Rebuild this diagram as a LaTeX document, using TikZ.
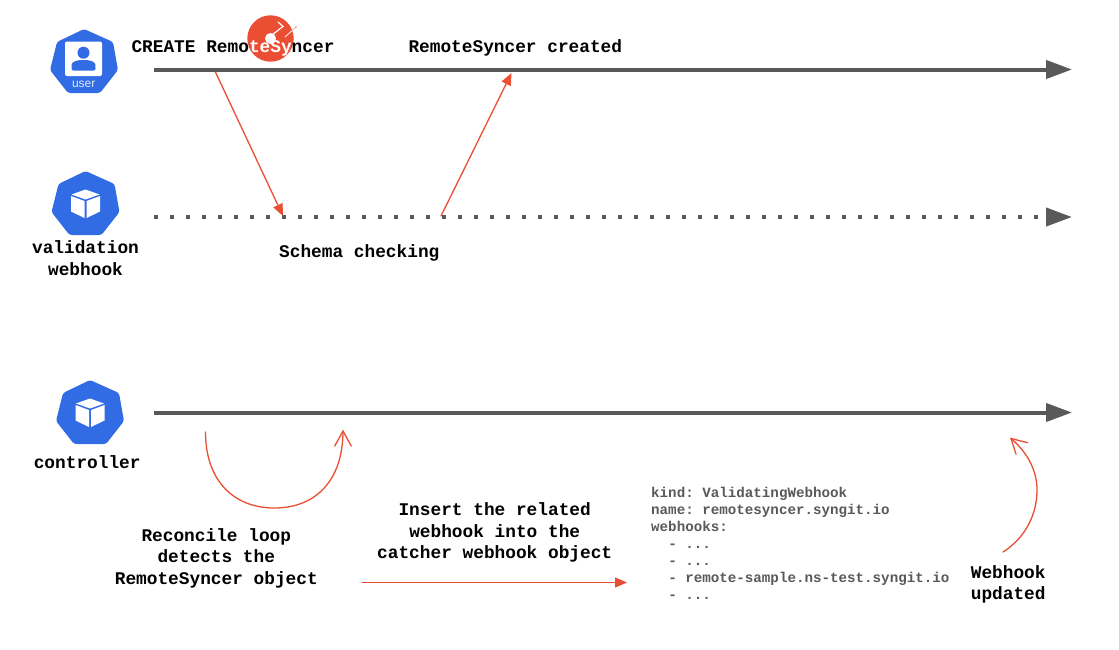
\documentclass[tikz,border=0pt]{standalone}
\usepackage{fontspec}
\setmonofont{Liberation Mono}
\setsansfont{Liberation Sans}
\usetikzlibrary{arrows.meta}
\definecolor{kube}{HTML}{326CE5}
\definecolor{lifeline}{HTML}{595959}
\definecolor{flow}{HTML}{EA4F33}
\definecolor{yamlgray}{HTML}{595959}
\tikzset{
  x=1pt,y=-1pt,
  lifelinearrow/.style={draw=lifeline,line width=4pt,-{Triangle[length=26pt,width=18pt]}},
  dotline/.style={lifelinearrow,dash pattern=on 4pt off 12pt},
  flowline/.style={draw=flow,line width=1.3pt,line cap=round},
  flowarrow/.style={flowline,-{Triangle[length=12pt,width=10pt]}},
  label/.style={font=\ttfamily\bfseries\fontsize{17.8}{21.6}\selectfont,align=center,text=black,inner sep=0pt},
  yaml/.style={font=\ttfamily\bfseries\fontsize{14.2}{17}\selectfont,align=left,text=yamlgray,inner sep=0pt},
  hepta/.pic={
    \fill[kube,rounded corners=2.5pt] (0,0) -- (29,13) -- (34,41) -- (16,64) -- (-16,64) -- (-34,41) -- (-27,13) -- cycle;
  },
  cube/.pic={
    \fill[white] (0,18.5) -- (14,23.5) -- (0,28.5) -- (-14,23.5) -- cycle;
    \fill[white] (-14.5,25) -- (-1,30) -- (-1,47) -- (-14.5,40.5) -- cycle;
    \fill[white] (14.5,25) -- (1,30) -- (1,47) -- (14.5,40.5) -- cycle;
  },
}
\begin{document}
\begin{tikzpicture}
\useasboundingbox (0,0) rectangle (1119,649);
\fill[white] (0,0) rectangle (1119,649);

% logo
\fill[flow] (270.5,38.5) circle (23.2);
\fill[white] (270.5,38.5) circle (5.5);
\draw[white,line width=1.2pt] (270.5,36) -- (283,26.5) -- (278,22);
\draw[white!70!flow,line width=1.2pt] (285,37) -- (296,27);
\fill[white!50!flow] (296,27) circle (1.2);

% icons
\pic at (84,29) {hepta};
\fill[white,rounded corners=2pt] (65,41.5) rectangle (102,76);
\fill[kube] (83.5,52.7) circle (6);
\fill[kube,rounded corners=2pt] (71.5,70.5) -- (71.5,66) .. controls (72,62) and (77,60) .. (83.5,60) .. controls (90,60) and (95,62) .. (95.5,66) -- (95.5,70.5) -- cycle;
\node[font=\sffamily\fontsize{12}{12}\selectfont,text=white!85!kube,inner sep=0pt] (usertext) at (83.7,84) {user};

\pic at (85.5,171) {hepta};
\pic at (85.5,171) {cube};
\pic at (90,380) {hepta};
\pic at (90,380) {cube};

% lifeline ends
\coordinate (u0) at (154,69.5);
\coordinate (u1) at (1072,69.5);
\coordinate (w0) at (154,217);
\coordinate (w1) at (1072,217);
\coordinate (c0) at (154,412.5);
\coordinate (c1) at (1072,412.5);
\coordinate (create) at (214.5,70);
\coordinate (check) at (283,216);
\coordinate (reply) at (441,216);
\coordinate (created) at (511.5,73);
\coordinate (insA) at (362,582.5);
\coordinate (insB) at (627,582.5);
\coordinate (loopA) at (205.5,432);
\coordinate (loopB) at (343,431);
\coordinate (updA) at (1003,552);
\coordinate (updB) at (1011,438.5);

\draw[flowarrow] (create) -- (check);
\draw[flowarrow] (reply) -- (created);
\draw[lifelinearrow] (u0) -- (u1);
\draw[dotline] (w0) -- (w1);
\draw[lifelinearrow] (c0) -- (c1);

% loop
\draw[flowline] (loopA) .. controls (205.5,480) and (233,508) .. (274.5,508) .. controls (316,508) and (343,480) .. (loopB);
\draw[flowline] (334.7,446) -- (loopB) -- (351.2,446);
% insert
\draw[flowarrow] (insA) -- (insB);
% updated
\draw[flowline] (updA) .. controls (1025,538) and (1037,515) .. (1037,490) .. controls (1037,470) and (1027,452) .. (updB);
\draw[flowline] (1027.7,442.7) -- (updB) -- (1016,454);

% labels
\node[label,anchor=base west] (t1) at (131.3,52) {CREATE Remo\textcolor{white}{teSy}ncer};
\node[label,anchor=base west] (t2) at (408.3,52) {RemoteSyncer created};
\node[label] (t3) at (85.5,258) {validation\\webhook};
\node[label] (t4) at (359.3,253) {Schema checking};
\node[label] (t5) at (87.2,462) {controller};
\node[label] (t6) at (216.3,558) {Reconcile loop\\detects the\\RemoteSyncer object};
\node[label] (t7) at (494.7,532.5) {Insert the related\\webhook into the\\catcher webhook object};
\node[label] (t8) at (1008.2,584.3) {Webhook\\updated};
\node[yaml,anchor=north west] (t9) at (651,487) {kind: ValidatingWebhook\\name: remotesyncer.syngit.io\\webhooks:\\\phantom{xx}- ...\\\phantom{xx}- ...\\\phantom{xx}- remote-sample.ns-test.syngit.io\\\phantom{xx}- ...};
\end{tikzpicture}
\end{document}
